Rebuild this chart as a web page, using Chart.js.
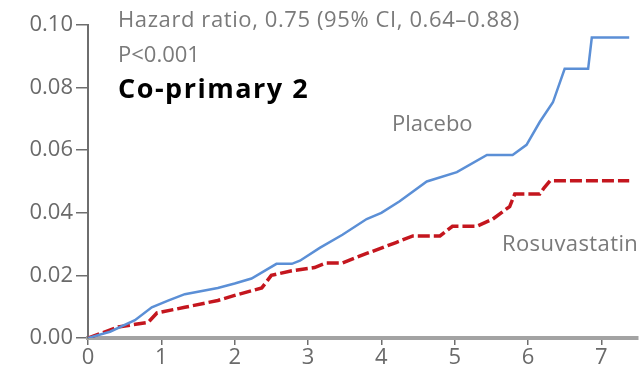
<!DOCTYPE html>
<html>
<head>
<meta charset="utf-8">
<script src="https://cdn.jsdelivr.net/npm/chart.js@4/dist/chart.umd.min.js"></script>
<style>
  html, body { margin: 0; padding: 0; background: #fff; }
  #wrap { width: 642px; height: 380px; position: relative; }
</style>
</head>
<body>
<div id="wrap"><canvas id="km"></canvas></div>
<script>
// cumulative incidence, years since randomization
const placeboYears = [0, 0.3, 0.64, 0.87, 1.1, 1.32, 1.77, 2.0, 2.23, 2.57, 2.78, 2.89, 3.16, 3.47, 3.8, 4.0, 4.25, 4.62, 5.03, 5.44, 5.79, 5.98, 6.16, 6.34, 6.5, 6.82, 6.87, 7.38];
const placeboRisk  = [0, 0.002, 0.0057, 0.0098, 0.012, 0.014, 0.016, 0.0174, 0.019, 0.0237, 0.0237, 0.0247, 0.0288, 0.033, 0.038, 0.040, 0.0437, 0.050, 0.053, 0.0585, 0.0585, 0.0617, 0.069, 0.0753, 0.086, 0.086, 0.096, 0.096];

const rosuvaYears = [0, 0.41, 0.82, 0.94, 1.32, 1.77, 2.0, 2.37, 2.5, 2.78, 3.09, 3.25, 3.47, 3.8, 4.2, 4.43, 4.8, 4.97, 5.3, 5.52, 5.75, 5.82, 6.16, 6.22, 6.3, 7.38];
const rosuvaRisk  = [0, 0.0035, 0.005, 0.008, 0.0098, 0.012, 0.0136, 0.016, 0.020, 0.0215, 0.0225, 0.024, 0.024, 0.027, 0.0305, 0.0326, 0.0326, 0.0357, 0.0357, 0.038, 0.042, 0.046, 0.046, 0.048, 0.0502, 0.0502];

const xTicks = [0, 1, 2, 3, 4, 5, 6, 7];
const yTicks = [0, 0.02, 0.04, 0.06, 0.08, 0.10];

const notes = [
  { text: "Hazard ratio, 0.75 (95% CI, 0.64\u20130.88)", x: 118, y: 21, font: "22px 'Open Sans'", spacing: "0.6px", color: "#7a7a7a" },
  { text: "P<0.001", x: 118, y: 56, font: "22px 'Open Sans'", spacing: "0px", color: "#7a7a7a" },
  { text: "Co-primary 2", x: 118, y: 90, font: "bold 27px 'Open Sans'", spacing: "1.5px", color: "#000" },
  { text: "Placebo", x: 392, y: 125, font: "22px 'Open Sans'", spacing: "0px", color: "#7a7a7a" },
  { text: "Rosuvastatin", x: 502, y: 245, font: "22px 'Open Sans'", spacing: "0.4px", color: "#7a7a7a" }
];

const toPoints = (xs, ys) => xs.map((x, i) => ({ x: x, y: ys[i] }));

const notesPlugin = {
  id: "notes",
  afterDraw(chart) {
    const ctx = chart.ctx;
    ctx.save();
    ctx.textBaseline = "middle";
    ctx.textAlign = "left";
    notes.forEach((n) => {
      ctx.font = n.font;
      ctx.letterSpacing = n.spacing;
      ctx.fillStyle = n.color;
      ctx.fillText(n.text, n.x, n.y);
    });
    ctx.restore();
  }
};

const gray = "#6e6e6e";
const tickFont = { family: "'Open Sans'", size: 22 };

new Chart(document.getElementById("km"), {
  type: "line",
  data: {
    datasets: [
      {
        label: "Placebo",
        data: toPoints(placeboYears, placeboRisk),
        borderColor: "#5b8fd6",
        borderWidth: 2.5,
        pointRadius: 0,
        tension: 0
      },
      {
        label: "Rosuvastatin",
        data: toPoints(rosuvaYears, rosuvaRisk),
        borderColor: "#c4161e",
        borderWidth: 3.5,
        borderDash: [12, 4],
        pointRadius: 0,
        tension: 0
      }
    ]
  },
  options: {
    responsive: true,
    maintainAspectRatio: false,
    animation: false,
    layout: { padding: { top: 25, right: 4, left: 0, bottom: 0 } },
    plugins: { legend: { display: false }, tooltip: { enabled: false } },
    scales: {
      x: {
        type: "linear",
        min: 0,
        max: 7.5,
        afterBuildTicks: (s) => { s.ticks = xTicks.map((v) => ({ value: v })); },
        afterFit: (s) => { s.height = 42; },
        border: { color: "#a3a3a3", width: 4 },
        grid: { drawOnChartArea: false, drawTicks: true, tickLength: 7, color: gray, lineWidth: 1.5 },
        ticks: { color: "#6a6a6a", font: tickFont, padding: 0, maxRotation: 0 }
      },
      y: {
        type: "linear",
        min: 0,
        max: 0.10,
        afterBuildTicks: (s) => { s.ticks = yTicks.map((v) => ({ value: v })); },
        afterFit: (s) => { s.width = 88; },
        border: { color: "#6e6e6e", width: 2 },
        grid: { drawOnChartArea: false, drawTicks: true, tickLength: 12, color: gray, lineWidth: 1.5 },
        ticks: { color: "#6a6a6a", font: tickFont, padding: 3, callback: (v) => v.toFixed(2) }
      }
    }
  },
  plugins: [notesPlugin]
});
</script>
</body>
</html>
